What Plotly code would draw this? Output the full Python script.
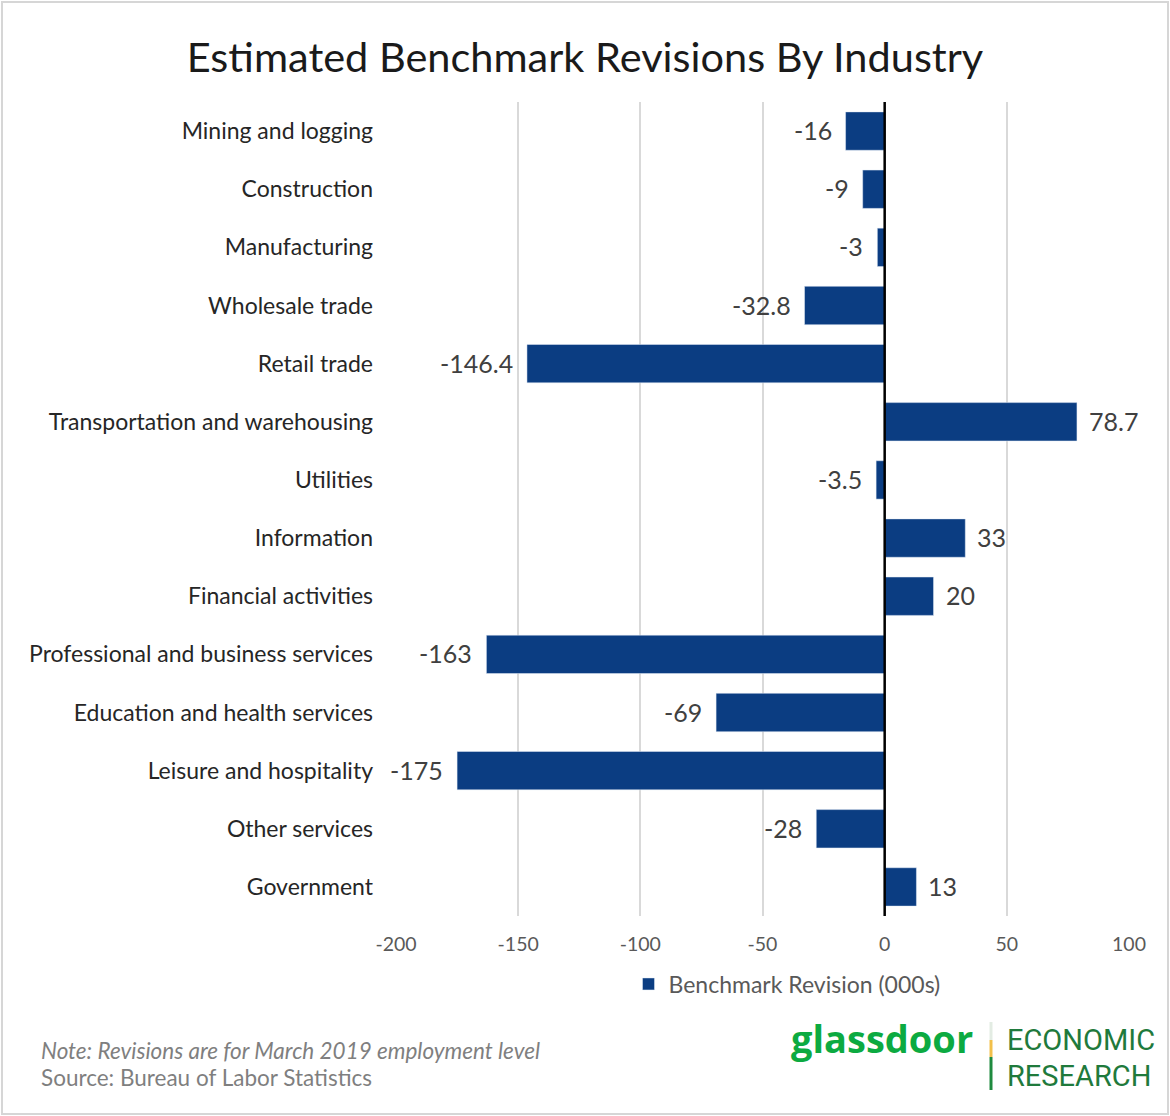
import plotly.graph_objects as go

categories = ["Mining and logging", "Construction", "Manufacturing", "Wholesale trade",
              "Retail trade", "Transportation and warehousing", "Utilities", "Information",
              "Financial activities", "Professional and business services",
              "Education and health services", "Leisure and hospitality",
              "Other services", "Government"]
values = [-16, -9, -3, -32.8, -146.4, 78.7, -3.5, 33, 20, -163, -69, -175, -28, 13]
labels = ["-16", "-9", "-3", "-32.8", "-146.4", "78.7", "-3.5", "33", "20", "-163",
          "-69", "-175", "-28", "13"]
tick_vals = [-200, -150, -100, -50, 0, 50, 100]
tick_text = ["-200", "-150", "-100", "-50", "0", "50", "100"]

W, H = 1170, 1116
L, R, T, B = 396, 41, 102, 200
pw, ph = W - L - R, H - T - B

def px(x):
    return (x - L) / pw

def py(y):
    return 1 - (y - T) / ph

fig = go.Figure()
fig.add_trace(go.Bar(
    y=categories, x=values, orientation="h",
    marker=dict(color="#0b3d82"),
    name="Benchmark Revision (000s)",
))

for cat, v, lab in zip(categories, values, labels):
    fig.add_annotation(x=v, y=cat, xref="x", yref="y", text=lab, showarrow=False,
                       xanchor="right" if v < 0 else "left", yanchor="middle",
                       xshift=-12 if v < 0 else 10, yshift=1,
                       font=dict(family="Lato", size=25, color="#404040"))

fig.update_layout(
    width=W, height=H,
    margin=dict(l=L, r=R, t=T, b=B, autoexpand=False),
    paper_bgcolor="white", plot_bgcolor="white",
    font=dict(family="Lato", color="#404040"),
    bargap=0.34,
    title=dict(text="Estimated Benchmark Revisions By Industry",
               x=0.5, xanchor="center", y=1 - 57 / H, yanchor="middle",
               font=dict(family="Lato", size=41.5, color="#1a1a1a")),
    showlegend=True,
    legend=dict(orientation="h", x=px(787), xanchor="center", y=py(984), yanchor="middle",
                font=dict(family="Lato", size=23, color="#595959"),
                itemwidth=30, bgcolor="rgba(0,0,0,0)"),
    xaxis=dict(range=[-200, 100], tickvals=tick_vals, ticktext=tick_text, showgrid=True,
               gridcolor="#d9d9d9", gridwidth=1.5, zeroline=False,
               tickfont=dict(family="Lato", size=19.5, color="#595959"),
               ticks="", ticklabelstandoff=14, showline=False),
    yaxis=dict(autorange="reversed", ticks="", showgrid=False, zeroline=False,
               tickfont=dict(family="Lato", size=23, color="#262626"),
               ticklabelstandoff=22),
)

# zero line
fig.add_shape(type="line", xref="x", yref="paper", x0=0, x1=0, y0=0, y1=1,
              line=dict(color="black", width=2.5), layer="above")

# frame
fig.add_shape(type="rect", xref="paper", yref="paper",
              x0=px(2), x1=px(W - 2), y0=py(H - 2), y1=py(2),
              line=dict(color="#d6d6d6", width=2))

# notes
fig.add_annotation(text="<i>Note: Revisions are for March 2019 employment level</i>",
                   xref="paper", yref="paper", x=px(39), y=py(1050),
                   xanchor="left", yanchor="middle", showarrow=False,
                   font=dict(family="Lato", size=22.5, color="#7f7f7f"))
fig.add_annotation(text="Source: Bureau of Labor Statistics",
                   xref="paper", yref="paper", x=px(39), y=py(1077),
                   xanchor="left", yanchor="middle", showarrow=False,
                   font=dict(family="Lato", size=22.5, color="#7f7f7f"))

# logo
fig.add_annotation(text="<b>glassdoor</b>", xref="paper", yref="paper",
                   x=px(975), y=py(1038), xanchor="right", yanchor="middle",
                   showarrow=False,
                   font=dict(family="Open Sans", size=38, color="#0caa41"))
fig.add_shape(type="line", xref="paper", yref="paper", x0=px(991), x1=px(991),
              y0=py(1022), y1=py(1040), line=dict(color="#e3ece3", width=3))
fig.add_shape(type="line", xref="paper", yref="paper", x0=px(991), x1=px(991),
              y0=py(1040), y1=py(1057), line=dict(color="#f2c04b", width=3))
fig.add_shape(type="line", xref="paper", yref="paper", x0=px(991), x1=px(991),
              y0=py(1057), y1=py(1090), line=dict(color="#1f8a3f", width=3))
logo_font = dict(family="Roboto", size=29, color="#1f7a3c")
fig.add_annotation(text="ECONOMIC", xref="paper", yref="paper",
                   x=px(1005), y=py(1040), xanchor="left", yanchor="middle",
                   showarrow=False, font=logo_font)
fig.add_annotation(text="RESEARCH", xref="paper", yref="paper",
                   x=px(1005), y=py(1076), xanchor="left", yanchor="middle",
                   showarrow=False, font=logo_font)

fig.write_html("out.html", config={"displayModeBar": False},
               post_script="document.body.style.margin='0';")
